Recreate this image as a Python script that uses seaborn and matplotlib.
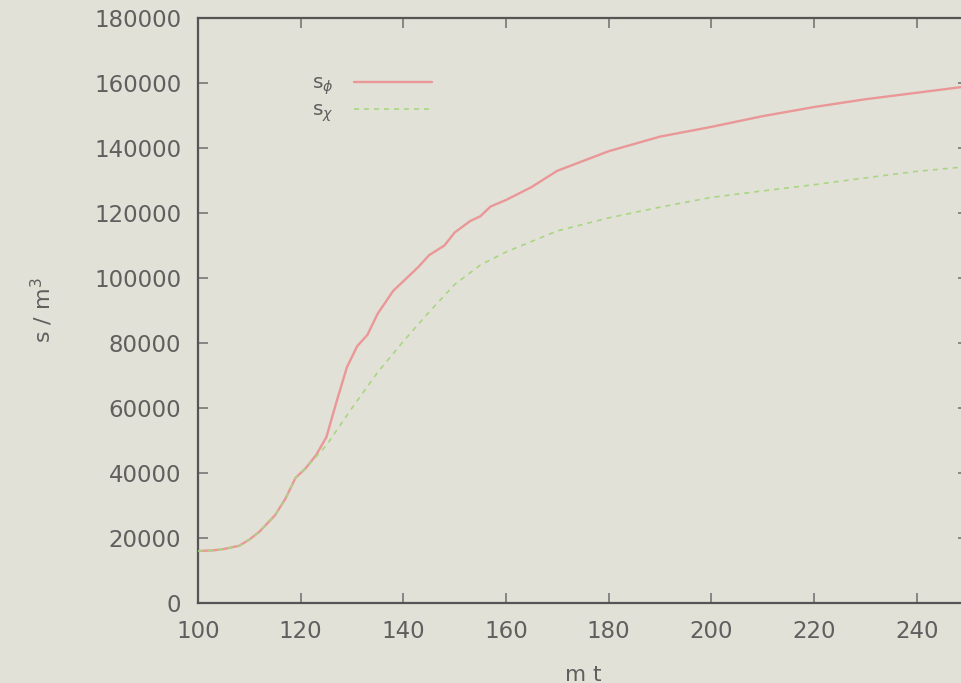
import numpy as np
import pandas as pd
import matplotlib
matplotlib.use("Agg")
import matplotlib.pyplot as plt
import seaborn as sns

# data
t_phi = [100, 103, 105, 108, 110, 112, 115, 117, 119, 121, 123, 125, 127, 129, 131, 133, 135, 138,
         140, 143, 145, 148, 150, 153, 155, 157, 160, 165, 170, 175, 180, 190, 200, 210, 220, 230, 240, 250]
s_phi = [16000, 16200, 16600, 17600, 19500, 22000, 27000, 32000, 38500, 41500, 45500, 51000, 62000, 72500,
         79000, 82500, 89000, 96000, 99000, 103500, 107000, 110000, 114000, 117500, 119000, 122000, 124000,
         128000, 133000, 136000, 139000, 143500, 146500, 149800, 152600, 155000, 157000, 159000]
t_chi = [100, 103, 105, 108, 110, 112, 115, 117, 119, 121, 123, 125, 130, 135, 140, 145, 150, 155,
         160, 170, 180, 190, 200, 210, 220, 230, 240, 250]
s_chi = [16000, 16200, 16600, 17600, 19500, 22000, 27000, 32000, 38500, 41500, 45000, 48500, 60000, 71000,
         80500, 89500, 98000, 104000, 108000, 114500, 118500, 121800, 124800, 126800, 128700, 130800, 132800, 134300]

xticks = [100, 120, 140, 160, 180, 200, 220, 240]
yticks = [0, 20000, 40000, 60000, 80000, 100000, 120000, 140000, 160000, 180000]

sns.set_theme(style="ticks")
plt.rcParams['font.family'] = ['DejaVu Sans']
plt.rcParams['mathtext.fontset'] = 'dejavusans'

bg = "#e2e1d7"
txt = "#5f5f5f"
fig = plt.figure(figsize=(9.62, 6.83), dpi=100, facecolor=bg)
ax = fig.add_axes([198/962, 80/683, 770/962, 585/683])
ax.set_facecolor(bg)

df_phi = pd.DataFrame({"t": t_phi, "s": s_phi})
df_chi = pd.DataFrame({"t": t_chi, "s": s_chi})

sns.lineplot(data=df_phi, x="t", y="s", ax=ax, color="#e99797", lw=1.7, label=r"s$_\phi$")
sns.lineplot(data=df_chi, x="t", y="s", ax=ax, color="#a8d682", lw=1.2, linestyle=(0, (3, 3)),
             label=r"s$_\chi$")
ax.lines[0].set_zorder(2)
ax.lines[1].set_zorder(3)

ax.set_xlim(100, 250)
ax.set_ylim(0, 180000)
ax.set_xticks(xticks)
ax.set_yticks(yticks)
ax.set_xticklabels([str(v) for v in xticks])
ax.set_yticklabels([str(v) for v in yticks])
ax.tick_params(axis='both', direction='in', length=7, width=1.2, color="#777777",
               labelcolor=txt, labelsize=16.5, top=True, right=True, pad=12)
for s in ax.spines.values():
    s.set_color("#555555")
    s.set_linewidth(1.6)

ax.set_xlabel("m t", color=txt, fontsize=15.5, labelpad=16)
ax.set_ylabel(r"s / m$^3$", color=txt, fontsize=16, labelpad=28)

leg = ax.legend(loc="upper left", bbox_to_anchor=(0.148, 0.905), frameon=False, markerfirst=False,
                handlelength=3.9, fontsize=14.5, labelspacing=0.2, handletextpad=1.0,
                borderaxespad=0, borderpad=0)
for t in leg.get_texts():
    t.set_color(txt)

fig.savefig("out.png", dpi=100, facecolor=bg)
